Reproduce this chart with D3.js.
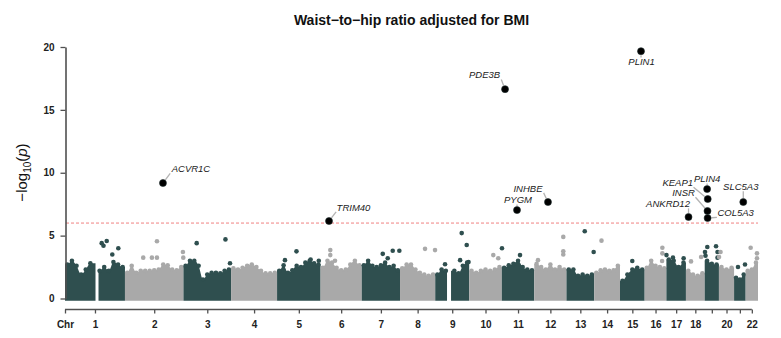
<!DOCTYPE html>
<html>
<head>
<meta charset="utf-8">
<script src="https://cdn.jsdelivr.net/npm/d3@7"></script>
<style>
  html, body { margin: 0; padding: 0; background: #fff; }
  svg { display: block; font-family: "Liberation Sans", Arial, Helvetica, sans-serif; }
</style>
</head>
<body>
<svg id="chart" width="781" height="338"></svg>
<script>
// ---- data ---------------------------------------------------------------
// chromosome lengths (Mb, GRCh37)
const chromosomes = ["1","2","3","4","5","6","7","8","9","10","11","12","13","14","15","16","17","18","19","20","21","22"];
const chrLengthMb = [249.25, 243.2, 198.0, 191.15, 180.9, 171.1, 159.1, 146.4, 141.2, 135.5, 135.0,
                     133.85, 115.2, 107.35, 102.5, 90.35, 81.2, 78.1, 59.1, 63.0, 48.1, 51.3];
// x-axis labels: "Chr" at the origin, then one per chromosome (19 and 21 unlabelled)
const axisLabels = ["Chr","1","2","3","4","5","6","7","8","9","10","11","12","13","14","15","16","17","18","","20","","22"];
const yTicks = [0, 5, 10, 15, 20];
const threshold = 6;

// upper envelope of the dense SNP cloud: max -log10(p) in equal bins along each chromosome
// (null = bin without markers)
const chrPeakProfile = [
  [2.7, 3.0, 2.6, 1.9, 2.3, 2.8, null, 2.2, 2.5, 2.2, 2.9, 2.7, 2.5],
  [2.05, 2.6, 2.05, 2.2, 2.2, 2.2, 2.25, 2.3, 2.7, 2.65, 2.3, 2.25, 2.5],
  [2.6, 3.0, 3.0, 2.6, 1.5, 1.9, 2.05, 2.05, 2.0, 2.2, 2.3],
  [2.4, 2.3, 2.45, 2.6, 2.7, 2.5, 2.2, 2.0, 2.0, 2.05],
  [2.2, 2.65, 2.05, 2.25, 2.6, 2.5, 2.85, 3.0, 2.8, 2.7],
  [2.45, 3.0, 2.85, 2.45, 2.25, 2.3, 2.7, 3.0, 2.65],
  [2.65, 3.0, 2.6, 2.5, 2.65, 2.85, 2.5, 2.6, 2.25],
  [2.4, 2.7, 2.7, 2.3, 2.05, 1.9, 1.8, 1.9],
  [1.9, 2.3, 2.2, null, 2.2, 2.0, 2.6, 2.85],
  [2.2, 2.05, 2.2, 2.3, 2.2, 2.3, 2.5],
  [2.45, 2.65, 2.75, 3.0, 2.5, 2.3, 2.25],
  [2.75, 2.5, 2.3, 2.7, 2.3, 2.5, 2.3],
  [2.3, 2.3, 1.8, 1.9, 1.8, 1.9],
  [2.05, 2.25, 2.3, 2.2, 2.25, 2.6],
  [1.4, 1.9, 2.3, 2.45, 2.3],
  [2.45, 3.0, 2.6, 2.5, 2.4],
  [3.1, 3.0, 2.5, 2.85],
  [2.2, 1.9, 1.8, 2.0],
  [3.0, 2.75, 2.7],
  [2.5, 2.3, 2.45],
  [1.65, 1.5, 1.9],
  [2.2, 2.3, 2.85]
];
// marker-free centromeric stretches: [chr, start Mb, end Mb]
const centromereGaps = [[1, 126.8, 139.3], [9, 49, 65.7]];

// individual sub-threshold markers standing above the cloud: [chr, position Mb, -log10 p]
const minorHits = [
  [1,152.6,4.4],[1,160,4.2],[1,173.4,4.57],[1,196.6,3.5],[1,221.6,4.0],
  [2,76,3.25],[2,112,3.25],[2,133,3.25],[2,133,4.55],[2,241,3.7],[2,242.5,3.25],
  [3,55,4.4],[3,174.6,4.7],[3,193.5,2.8],
  [5,32.8,3.05],[5,80.6,3.75],[5,139.4,3.1],[5,173.4,3.0],
  [6,40.3,3.85],[6,40.3,3.45],[6,59.9,3.0],
  [7,87.3,3.55],[7,108,3.2],[7,128.8,3.8],[7,156.3,3.8],
  [8,104,3.95],[8,145.5,3.85],
  [9,40.7,2.72],[9,103.4,3.05],[9,110,5.2],[9,130.8,4.25],[9,138.4,2.9],
  [10,100.2,3.45],[10,120.8,3.2],
  [11,0.8,4.0],[11,75.7,3.45],
  [12,15.4,3.05],[12,120.6,4.9],[12,120.6,3.75],[12,120.6,3.5],
  [13,76,5.35],[13,113,3.7],
  [14,30.4,4.6],
  [15,51,2.98],
  [16,73.6,4.04],[16,73.6,3.59],[16,72.5,2.98],
  [17,0.4,3.45],[17,27.4,3.25],[17,71.7,3.2],
  [18,21.2,2.95],[18,63.1,3.3],
  [19,1.2,3.7],[19,3.3,3.4],[19,10.8,4.1],[19,47,4.15],[19,53.2,3.7],[19,53.2,3.25],
  [20,0.4,3.3],[20,6.7,3.7],
  [21,16.2,2.5],[21,45.3,2.7],
  [22,20.8,4.04],[22,47,3.59],[22,47,3.2]
];

// genome-wide significant lead variants
const leadGenes = ["ACVR1C","TRIM40","PDE3B","PYGM","INHBE","PLIN1","ANKRD12","PLIN4","KEAP1","INSR","COL5A3","SLC5A3"];
const leadChr   = [2, 6, 11, 11, 12, 15, 18, 19, 19, 19, 19, 21];
const leadPosMb = [158, 35, 13.5, 63.2, 57, 87.3, 10.8, 10, 12.5, 11.5, 12, 38.2];
const leadLogP  = [9.18, 6.16, 16.65, 7.03, 7.67, 19.67, 6.48, 8.70, 7.91, 6.96, 6.40, 7.67];

// ---- layout -------------------------------------------------------------
// label placement relative to its point (px)
const labelOffset = {
  ACVR1C: [28, -14], TRIM40: [24.5, -13.5], PDE3B: [-20.5, -14], PYGM: [1, -10],
  INHBE: [-20, -13.5], PLIN1: [0.5, 11], ANKRD12: [-20.5, -13], PLIN4: [0, -10],
  KEAP1: [-30, -16], INSR: [-24, -18], COL5A3: [28, -5], SLC5A3: [-2.5, -15]
};
const DARK = "#2f4f4f", LIGHT = "#a9a9a9";

const svg = d3.select("#chart");

const chrOffset = [];
let acc = 0;
chrLengthMb.forEach(l => { chrOffset.push(acc); acc += l; });
const totalMb = acc;
const gpos = (c, p) => chrOffset[c - 1] + p;

const x = d3.scaleLinear().domain([0, totalMb]).range([65, 758]);
const y = d3.scaleLinear().domain([0, 20]).range([298.5, 47]);
const colorOf = c => (c % 2 === 1 ? DARK : LIGHT);

// ---- title --------------------------------------------------------------
svg.append("text")
  .attr("x", 411.5).attr("y", 25)
  .attr("text-anchor", "middle")
  .attr("font-size", 14).attr("font-weight", "bold").attr("fill", "#111")
  .text("Waist\u2212to\u2212hip ratio adjusted for BMI");

// ---- SNP cloud ------------------------------------------------------------
const R = 2.3;
const cloud = svg.append("g");
const area = d3.area()
  .defined(d => d.v != null)
  .x(d => x(d.pos))
  .y0(y(0) + R)
  .y1(d => y(d.v))
  .curve(d3.curveMonotoneX);

chrPeakProfile.forEach((prof, i) => {
  const len = chrLengthMb[i], off = chrOffset[i], n = prof.length;
  const col = colorOf(i + 1);
  const pts = prof.map((v, j) => ({ pos: off + (j + 0.5) * len / n, v }));
  const gap = centromereGaps.find(g => g[0] === i + 1);
  let full = [{ pos: off, v: prof[0] }];
  pts.forEach((p, j) => {
    if (p.v == null && gap) {
      const prev = pts[j - 1].v, next = pts[j + 1].v;
      full.push({ pos: off + gap[1], v: prev }, { pos: p.pos, v: null }, { pos: off + gap[2], v: next });
    } else {
      full.push(p);
    }
  });
  full.push({ pos: off + len, v: prof[n - 1] });
  cloud.append("path").datum(full).attr("d", area).attr("fill", col);
  cloud.selectAll(null)
    .data(pts.filter(d => d.v != null && !(gap && d.pos > off + gap[1] - 2 && d.pos < off + gap[2] + 2)))
    .join("circle")
    .attr("cx", d => x(d.pos)).attr("cy", d => y(d.v)).attr("r", R).attr("fill", col);
});

cloud.selectAll(null).data(minorHits).join("circle")
  .attr("cx", d => x(gpos(d[0], d[1])))
  .attr("cy", d => y(d[2]))
  .attr("r", R)
  .attr("fill", d => colorOf(d[0]));

// ---- significance threshold -------------------------------------------------
svg.append("line")
  .attr("x1", 66).attr("x2", 758)
  .attr("y1", y(threshold)).attr("y2", y(threshold))
  .attr("stroke", "#f08080").attr("stroke-width", 1)
  .attr("stroke-dasharray", "3,2");

// ---- axes ---------------------------------------------------------------
const AX = "#505050";
const yAxis = d3.axisLeft(y).tickValues(yTicks).tickSize(5).tickSizeOuter(0).tickPadding(6);
const gy = svg.append("g").attr("transform", "translate(65.5,0)").call(yAxis);
gy.select(".domain").attr("stroke", AX).attr("stroke-width", 1.6);
gy.selectAll(".tick line").attr("stroke", AX).attr("stroke-width", 1.3);
gy.selectAll(".tick text").attr("font-size", 10).attr("font-weight", "bold")
  .attr("fill", "#222").attr("font-family", "Liberation Sans, Arial, sans-serif");

const tickPos = [0].concat(chrLengthMb.map((l, i) => chrOffset[i] + l / 2));
const xAxis = d3.axisBottom(x).tickValues(tickPos).tickSize(4).tickSizeOuter(0).tickPadding(7)
  .tickFormat((d, i) => axisLabels[i]);
const gx = svg.append("g").attr("transform", "translate(0,309.5)").call(xAxis);
gx.select(".domain").remove();
gx.insert("line", ":first-child")
  .attr("x1", x(tickPos[0])).attr("x2", x(tickPos[tickPos.length - 1]))
  .attr("stroke", AX).attr("stroke-width", 1.6);
gx.selectAll(".tick line").attr("stroke", AX).attr("stroke-width", 1.3);
gx.selectAll(".tick text").attr("font-size", 10).attr("font-weight", "bold")
  .attr("fill", "#222").attr("font-family", "Liberation Sans, Arial, sans-serif");

// y-axis title: -log10(p)
const yt = svg.append("text")
  .attr("transform", "translate(27,172.5) rotate(-90)")
  .attr("text-anchor", "middle")
  .attr("font-size", 15).attr("fill", "#111");
yt.append("tspan").text("\u2212log");
yt.append("tspan").attr("font-size", 10).attr("dy", 4).text("10");
yt.append("tspan").attr("dy", -4).text("(");
yt.append("tspan").attr("font-style", "italic").text("p");
yt.append("tspan").text(")");

// ---- lead variants + labels ---------------------------------------------------
const leads = leadGenes.map((g, i) => ({
  gene: g,
  cx: x(gpos(leadChr[i], leadPosMb[i])),
  cy: y(leadLogP[i])
}));
const LR = 3.5;
const seg = svg.append("g");
const lab = svg.append("g");

leads.forEach(d => {
  const [dx, dy] = labelOffset[d.gene];
  const t = lab.append("text")
    .attr("x", d.cx + dx).attr("y", d.cy + dy).attr("dy", "0.35em")
    .attr("text-anchor", "middle")
    .attr("font-size", 9.5).attr("font-style", "italic").attr("fill", "#1a1a1a")
    .text(d.gene);
  const b = t.node().getBBox();
  const pad = 0.5;
  const bx0 = b.x - pad, bx1 = b.x + b.width + pad, by0 = b.y + 1, by1 = b.y + b.height - 1;
  const nx = Math.max(bx0, Math.min(bx1, d.cx));
  const ny = Math.max(by0, Math.min(by1, d.cy));
  const vx = d.cx - nx, vy = d.cy - ny, L = Math.hypot(vx, vy);
  if (L > LR + 1.5) {
    const k = (L - LR - 0.5) / L;
    seg.append("line")
      .attr("x1", nx).attr("y1", ny)
      .attr("x2", nx + vx * k).attr("y2", ny + vy * k)
      .attr("stroke", "#b3b3b3").attr("stroke-width", 1.3);
  }
});

svg.append("g").selectAll("circle").data(leads).join("circle")
  .attr("cx", d => d.cx).attr("cy", d => d.cy).attr("r", LR)
  .attr("fill", "#000").attr("stroke", "#1c2b2b").attr("stroke-width", 0.6);
</script>
</body>
</html>
